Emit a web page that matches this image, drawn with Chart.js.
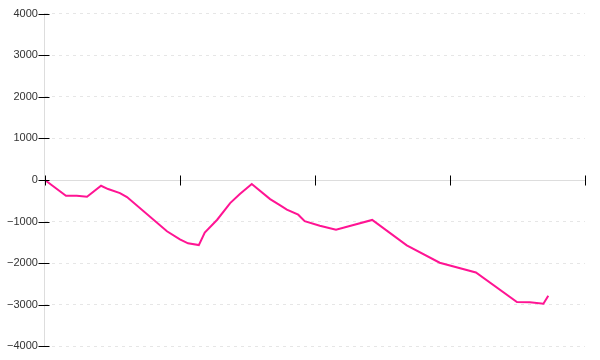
<!DOCTYPE html>
<html>
<head>
<meta charset="utf-8">
<script src="https://cdn.jsdelivr.net/npm/chart.js@4/dist/chart.umd.min.js"></script>
<style>
  html, body { margin: 0; padding: 0; background: #fff; }
  #wrap { width: 600px; height: 360px; }
</style>
</head>
<body>
<div id="wrap"><canvas id="c" width="600" height="360"></canvas></div>
<script>
// Data
const xValues = [0, 3.9, 5.9, 7.8, 10.4, 11.7, 13.9, 15.2, 22.6, 25, 26.5, 28.5, 29.6, 31.9, 34.3, 36.1, 38.3, 41.7, 43.5, 44.8, 46.9, 48.1, 50.9, 53.9, 60.6, 67, 73.1, 79.8, 87.4, 89.8, 92.3, 93.2];
const yValues = [0, -379, -379, -404, -138, -218, -314, -411, -1233, -1426, -1523, -1564, -1264, -955, -556, -338, -97, -459, -604, -713, -834, -991, -1100, -1196, -960, -1571, -1989, -2224, -2932, -2937, -2973, -2780];
const xTickValues = [0, 25, 50, 75, 100];
const yTickValues = [-4000, -3000, -2000, -1000, 0, 1000, 2000, 3000, 4000];

const points = xValues.map((x, i) => ({ x: x, y: yValues[i] }));

const crossTicks = {
  id: 'crossTicks',
  afterDraw(chart) {
    const ctx = chart.ctx;
    const xs = chart.scales.x, ys = chart.scales.y;
    const y0 = Math.round(ys.getPixelForValue(0)) + 0.5;
    const x0 = Math.round(xs.getPixelForValue(xTickValues[0])) + 0.5;
    ctx.save();
    ctx.strokeStyle = '#000';
    ctx.lineWidth = 1;
    ctx.beginPath();
    xTickValues.forEach(v => {
      const px = Math.round(xs.getPixelForValue(v)) + 0.5;
      ctx.moveTo(px, y0 - 5);
      ctx.lineTo(px, y0 + 5);
    });
    yTickValues.forEach(v => {
      const py = Math.round(ys.getPixelForValue(v)) + 0.5;
      ctx.moveTo(x0 - 7, py);
      ctx.lineTo(x0 + 4, py);
    });
    ctx.stroke();
    ctx.restore();
  }
};

new Chart(document.getElementById('c'), {
  type: 'line',
  data: {
    datasets: [{
      data: points,
      borderColor: '#ff1493',
      borderWidth: 2,
      pointRadius: 0,
      tension: 0,
      fill: false
    }]
  },
  options: {
    responsive: false,
    animation: false,
    layout: { padding: { top: 12, right: 15, bottom: 5, left: 0 } },
    plugins: { legend: { display: false }, tooltip: { enabled: false } },
    scales: {
      x: {
        type: 'linear',
        min: 0, max: 100,
        position: { y: 0 },
        afterBuildTicks(scale) { scale.ticks = xTickValues.map(v => ({ value: v })); },
        ticks: { display: false },
        grid: { display: false, drawTicks: false },
        border: { display: true, color: '#dddddd', width: 1 }
      },
      y: {
        min: -4000, max: 4000,
        afterBuildTicks(scale) { scale.ticks = yTickValues.map(v => ({ value: v })); },
        ticks: {
          padding: 7,
          color: '#333',
          font: { family: 'Liberation Sans', size: 11 },
          callback: (v) => String(v).replace('-', '\u2212')
        },
        grid: { color: '#e6e6e6', drawTicks: false, lineWidth: 1 },
        border: { display: true, color: '#dddddd', width: 1, dash: [3, 4] }
      }
    }
  },
  plugins: [crossTicks]
});
</script>
</body>
</html>
